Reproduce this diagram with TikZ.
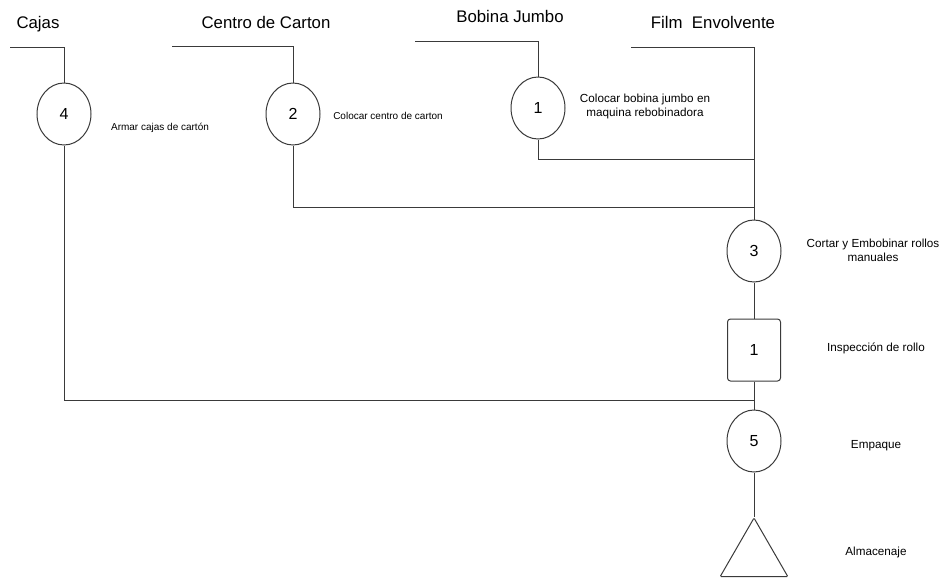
\documentclass[tikz,border=0pt]{standalone}
\usepackage{fontspec}
\setmainfont{Liberation Sans}
\usepackage{tikz}
\usetikzlibrary{shapes.geometric}
\definecolor{linea}{HTML}{3A3A3A}

\begin{document}
\begin{tikzpicture}[x=1pt, y=-1pt, line width=1pt, draw=linea,
  op/.style={ellipse, draw, minimum width=54pt, minimum height=62pt, inner sep=0pt, font=\fontsize{16}{19}\selectfont},
  insp/.style={rectangle, rounded corners=3pt, draw, minimum width=53pt, minimum height=62pt, font=\fontsize{16}{19}\selectfont},
  alm/.style={regular polygon, regular polygon sides=3, draw, minimum size=78pt, inner sep=0pt, rounded corners=1pt},
  titulo/.style={font=\fontsize{16.8}{20}\selectfont},
  desc/.style={font=\fontsize{11.7}{14}\selectfont, align=center},
  descs/.style={font=\fontsize{10}{12}\selectfont}]
 \useasboundingbox (0,0) rectangle (945,579);
 % materiales
 \node[titulo] (cajas) at (38,24) {Cajas};
 \node[titulo] (centro) at (266,22) {Centro de Carton};
 \node[titulo] (bobina) at (510,16) {Bobina Jumbo};
 \node[titulo] (film) at (713,22) {Film\ \ Envolvente};
 \coordinate (cajasL) at (10,47);
 \coordinate (centroL) at (172,46);
 \coordinate (bobinaL) at (415,41);
 \coordinate (filmL) at (631,47);
 % operaciones
 \node[op] (op4) at (64,114) {4};
 \node[op] (op2) at (293,114) {2};
 \node[op] (op1) at (538,108) {1};
 \node[op] (op3) at (754,251) {3};
 \node[insp] (insp1) at (754,350) {1};
 \node[op] (op5) at (754,441) {5};
 \node[alm] (alm) at (754,557) {};
 % textos
 \node[descs] (t4) at (160,128) {Armar cajas de cartón};
 \node[descs] (t2) at (388,116) {Colocar centro de carton};
 \node[desc] (t1) at (645,106) {Colocar bobina jumbo en\\maquina rebobinadora};
 \node[desc] (t3) at (873,250) {Cortar y Embobinar rollos\\manuales};
 \node[desc] (ti) at (876,348) {Inspección de rollo};
 \node[desc] (t5) at (876,446) {Empaque};
 \node[desc] (ta) at (876,552) {Almacenaje};
 % uniones
 \coordinate (j1) at (754,159);
 \coordinate (j2) at (754,207);
 \coordinate (j4) at (754,400);
 \draw (cajasL) -| (op4);
 \draw (centroL) -| (op2);
 \draw (bobinaL) -| (op1);
 \draw (filmL) -| (op3);
 \draw (op1) |- (j1);
 \draw (op2) |- (j2);
 \draw (op4) |- (j4);
 \draw (op3) -- (insp1);
 \draw (insp1) -- (op5);
 \draw (op5) -- (alm);
\end{tikzpicture}
\end{document}
